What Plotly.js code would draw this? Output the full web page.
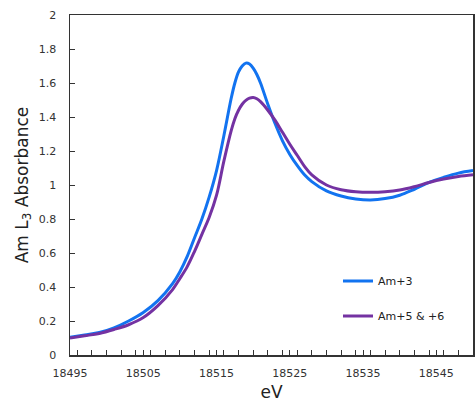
<!DOCTYPE html>
<html>
<head>
<meta charset="utf-8">
<script src="https://cdn.plot.ly/plotly-3.0.1.min.js"></script>
<style>html,body{margin:0;padding:0;background:#fff;}#chart{width:475px;height:402px;}</style>
</head>
<body>
<div id="chart"></div>
<script>
const energy = [18495, 18497, 18499, 18501, 18503, 18505, 18507, 18509, 18510, 18511, 18512, 18513, 18514, 18515, 18516, 18517, 18517.5, 18518, 18518.5, 18519, 18519.5, 18520, 18520.5, 18521, 18522, 18523, 18524, 18525, 18526, 18527, 18528, 18530, 18532, 18534, 18536, 18538, 18540, 18542, 18544, 18546, 18548, 18550];
const am3 = [0.104, 0.118, 0.132, 0.160, 0.200, 0.250, 0.320, 0.420, 0.49, 0.58, 0.69, 0.80, 0.93, 1.085, 1.29, 1.51, 1.60, 1.665, 1.70, 1.717, 1.712, 1.688, 1.65, 1.60, 1.475, 1.36, 1.26, 1.18, 1.115, 1.06, 1.02, 0.965, 0.935, 0.918, 0.912, 0.92, 0.94, 0.975, 1.015, 1.045, 1.07, 1.085];
const am56 = [0.100, 0.113, 0.127, 0.150, 0.178, 0.220, 0.290, 0.385, 0.45, 0.52, 0.61, 0.71, 0.81, 0.94, 1.14, 1.32, 1.39, 1.44, 1.475, 1.498, 1.511, 1.515, 1.507, 1.49, 1.44, 1.38, 1.31, 1.24, 1.175, 1.11, 1.06, 1.0, 0.972, 0.96, 0.957, 0.96, 0.97, 0.99, 1.015, 1.035, 1.05, 1.06];
const seriesNames = ["Am+3", "Am+5 & +6"];

const traces = [
  {x: energy, y: am3, name: seriesNames[0], type: "scatter", mode: "lines",
   line: {color: "#1273f0", width: 3, shape: "spline", smoothing: 1.0}, legendgroup: "a"},
  {x: energy, y: am56, name: seriesNames[1], type: "scatter", mode: "lines",
   line: {color: "#7432a2", width: 3, shape: "spline", smoothing: 1.0}, legendgroup: "b"}
];

const layout = {
  width: 475, height: 402,
  margin: {l: 70, r: 2, t: 15, b: 47},
  paper_bgcolor: "#fff", plot_bgcolor: "#fff",
  font: {family: "DejaVu Sans, sans-serif", color: "#222"},
  showlegend: true,
  legend: {x: 0.665, y: 0.166, xanchor: "left", yanchor: "middle", bgcolor: "rgba(0,0,0,0)",
           font: {size: 11, family: "DejaVu Sans, sans-serif", color: "#222"},
           traceorder: "grouped", tracegroupgap: 16, itemwidth: 30},
  xaxis: {
    range: [18495, 18550], tick0: 18495, dtick: 10, tickformat: "d", ticks: "inside", ticklen: 5, tickcolor: "#333",
    showgrid: false, zeroline: false, showline: true, linecolor: "#333", linewidth: 1.5, mirror: true,
    tickfont: {size: 11, color: "#333"}, ticklabelstandoff: 7,
    minor: {dtick: 2, ticks: "inside", ticklen: 5, tickcolor: "#333", showgrid: false},
    title: {text: "eV", font: {size: 17, color: "#222"}, standoff: 8}
  },
  yaxis: {
    range: [0, 2], dtick: 0.2, ticks: "inside", ticklen: 5, tickcolor: "#333",
    showgrid: false, zeroline: false, showline: true, linecolor: "#333", linewidth: 1.5, mirror: true,
    tickfont: {size: 11, color: "#333"}, ticklabelstandoff: 10,
    title: {text: "Am L<sub>3</sub> Absorbance", font: {size: 17, color: "#222"}, standoff: 6}
  }
};

Plotly.newPlot("chart", traces, layout, {displayModeBar: false, staticPlot: true});
</script>
</body>
</html>
